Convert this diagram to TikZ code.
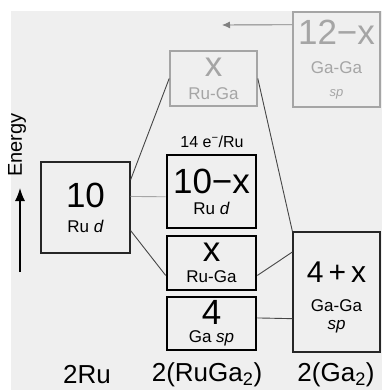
\documentclass[tikz,border=0pt]{standalone}
\usepackage{fontspec}
\setmainfont{Liberation Sans}
\definecolor{paper}{RGB}{239,239,239}
\definecolor{fadegray}{RGB}{165,165,165}
\definecolor{linkgray}{RGB}{70,70,70}
\usetikzlibrary{arrows.meta, positioning, calc}
\newcommand{\bignum}[1]{{\fontsize{35}{35}\selectfont #1}}

\begin{document}
\begin{tikzpicture}[x=1pt, y=-1pt,
  level/.style={draw=black!85, line width=1.2pt, minimum width=89pt, align=center, inner sep=0pt, font=\fontsize{17}{17}\selectfont},
  occ/.style={level, draw=black, line width=2.6pt},
  unocc/.style={level, draw=fadegray, line width=1.6pt, text=fadegray, minimum width=87pt},
  link/.style={draw=linkgray, line width=0.9pt}]
  \useasboundingbox (0,0) rectangle (382,390);
  \fill[paper] (11,11) rectangle (382,390);

  % levels
  \node[level, minimum height=91pt] (ru) at (85.5,207.5) {\bignum{10}\\[8pt]Ru \textit{d}};
  \node[occ, minimum height=73pt] (rud) at (211.5,191.5) {\bignum{10−x}\\[4pt]Ru \textit{d}};
  \node[occ, minimum height=54pt] (ruga) at (211.5,263) {\bignum{x}\\[4pt]Ru-Ga};
  \node[occ, minimum height=53pt] (gasp) at (211.5,323.5) {\bignum{4}\\[1pt]Ga \textit{sp}};
  \node[level, minimum width=87pt, minimum height=120pt] (gaga) at (336.5,292) {\rule{0pt}{32pt}{\fontsize{30}{30}\selectfont 4\,+\,x}\\[12pt]Ga-Ga\\[1pt]\textit{sp}};
  \node[unocc, minimum height=55pt] (rugaab) at (213.5,78.5) {\bignum{x}\\[6pt]Ru-Ga};
  \node[unocc, minimum height=95pt] (gagaab) at (336.5,59.5) {\bignum{12−x}\\[12pt]Ga-Ga\\[6pt]{\fontsize{13}{13}\selectfont\textit{sp}}};
  \node[font=\fontsize{16}{16}\selectfont] (count) at (212,142) {14 e\textsuperscript{−}/Ru};

  % connectors
  \draw[link, draw=gray!70] ($(ru.north east)!0.38!(ru.south east)$) -- ($(rud.north west)!0.57!(rud.south west)$);
  \draw[link] ($(ru.north east)!0.2!(ru.south east)$) -- ($(rugaab.north west)!0.5!(rugaab.south west)$);
  \draw[link] ($(ru.north east)!0.75!(ru.south east)$) -- ($(ruga.north west)!0.72!(ruga.south west)$);
  \draw[link] (gaga.north west) -- ($(rugaab.north east)!0.5!(rugaab.south east)$);
  \draw[link] ($(gaga.north west)!0.17!(gaga.south west)$) -- ($(ruga.north east)!0.72!(ruga.south east)$);
  \draw[link] ($(gasp.north east)!0.4!(gasp.south east)$) -- ($(gaga.north west)!0.72!(gaga.south west)$);
  \coordinate (dump) at (222,25);
  \draw[link, draw=gray, -{Latex[length=8pt, width=7pt]}] ($(gagaab.north west)!0.14!(gagaab.south west)$) -- (dump);

  % energy axis
  \coordinate (ebot) at (20,272);
  \coordinate (etop) at (20,188);
  \draw[line width=1.4pt, -{Latex[length=13pt, width=10pt]}] (ebot) -- (etop);
  \node[rotate=90, font=\fontsize{20}{20}\selectfont] (energy) at (17,145) {Energy};

  % formula units
  \node[font=\fontsize{26}{26}\selectfont] (lru) at (87,375) {2Ru};
  \node[font=\fontsize{26}{26}\selectfont] (lruga) at (207,375) {2(RuGa\textsubscript{2})};
  \node[font=\fontsize{26}{26}\selectfont] (lga) at (336,375) {2(Ga\textsubscript{2})};
\end{tikzpicture}
\end{document}
